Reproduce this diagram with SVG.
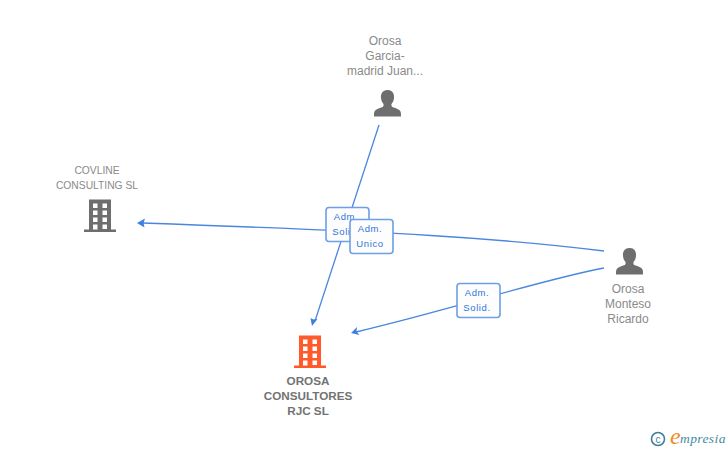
<svg xmlns="http://www.w3.org/2000/svg" width="728" height="450" viewBox="0 0 728 450">
<style>
.t{font-family:"Liberation Sans",Arial,sans-serif;font-size:12px;fill:#8a8a8a;text-anchor:middle}
.s{font-size:10.300px}
.b{font-size:11.700px;font-weight:bold;fill:#737373}
.c{fill:none;stroke:#4a86e0;stroke-width:1.300}
.h{fill:#3f7fe0}
.l{fill:#fdfdfe;stroke:#6c9fe6;stroke-width:1.600}
.lt{font-family:"Liberation Sans",Arial,sans-serif;font-size:9.500px;fill:#2f74d8;text-anchor:middle;letter-spacing:.6px}
</style>
<defs>
<path id="person" d="M0 0c-5 0-7 4-6.500 8c.2 2.500 1.200 4.500 2.500 6c.3 1.500 0 2.700-1.500 3.300c-3 1.200-6.500 2-7.500 4.200c-.5 1.200-.5 3-.5 5h27c0-2 0-3.800-.5-5c-1-2.200-4.500-3-7.500-4.200c-1.500-.6-1.800-1.800-1.500-3.300c1.300-1.500 2.300-3.500 2.500-6c.5-4-1.500-8-6-8z"/>
<path id="bld" fill-rule="evenodd" d="M-11 0h22v30h5v2.500h-32v-2.500h5zM-7 4v4.500h4.500v-4.500zM2.500 4v4.500h4.500v-4.500zM-7 11v4.500h4.500v-4.500zM2.500 11v4.500h4.500v-4.500zM-7 18v4.500h4.500v-4.500zM2.500 18v4.500h4.500v-4.500zM-7 25v5h4.500v-5zM2.500 25v4.500h4.500v-4.500z"/>
</defs>
<g id="connectors">
<path class="c" d="M379 125L315 321"/>
<path class="h" d="M312 326l-1.500-8 3 1.500 4-.5z"/>
<path class="c" d="M604 251C500 238 400 232 142 223"/>
<path class="h" d="M137 223l8-4.500-1.500 4.500 1 4.500z"/>
<path class="c" d="M604 268C540 280 450 310 356 332"/>
<path class="h" d="M351 333l6-6-.5 4.500 3 3.500z"/>
</g>
<g id="node-juan">
<text class="t" x="385" y="45">Orosa</text>
<text class="t" x="385" y="60">Garcia-</text>
<text class="t" x="385" y="75">madrid Juan...</text>
<use href="#person" x="387.500" y="90" fill="#6e6e6e"/>
</g>
<g id="node-covline">
<text class="t s" x="97" y="174">COVLINE</text>
<text class="t s" x="97" y="189">CONSULTING SL</text>
<use href="#bld" x="100" y="199.500" fill="#6e6e6e"/>
</g>
<g id="node-orosa-consultores">
<use href="#bld" x="310" y="335.500" fill="#ff5a2b"/>
<text class="t b" x="308" y="385">OROSA</text>
<text class="t b" x="308" y="400">CONSULTORES</text>
<text class="t b" x="308" y="415">RJC SL</text>
</g>
<g id="node-ricardo">
<use href="#person" x="629.500" y="248" fill="#6e6e6e"/>
<text class="t" x="628" y="293">Orosa</text>
<text class="t" x="628" y="308">Monteso</text>
<text class="t" x="628" y="323">Ricardo</text>
</g>
<g id="label-solid-1">
<rect class="l" x="326" y="207.500" width="43" height="34" rx="3"/>
<text class="lt" x="346" y="220">Adm.</text>
<text class="lt" x="346" y="235">Solid.</text>
</g>
<g id="label-unico">
<rect class="l" x="350" y="219.500" width="43" height="34" rx="3"/>
<text class="lt" x="370" y="232">Adm.</text>
<text class="lt" x="370" y="247">Unico</text>
</g>
<g id="label-solid-2">
<rect class="l" x="457" y="283.500" width="43" height="34" rx="3"/>
<text class="lt" x="477" y="296">Adm.</text>
<text class="lt" x="477" y="311">Solid.</text>
</g>
<g id="credit">
<circle cx="658" cy="439" r="6.500" fill="none" stroke="#3f7f9a" stroke-width="1.600"/>
<text x="658" y="442.500" font-family="Liberation Sans,sans-serif" font-size="10" fill="#3f7f9a" text-anchor="middle">c</text>
<text x="670" y="444" font-family="Liberation Serif,serif" font-size="24" font-style="italic" fill="#f08a1d">e</text>
<text x="680" y="443" font-family="Liberation Serif,serif" font-size="13.500" font-style="italic" fill="#3f8aa0" letter-spacing=".4">mpresia</text>
</g>
</svg>
